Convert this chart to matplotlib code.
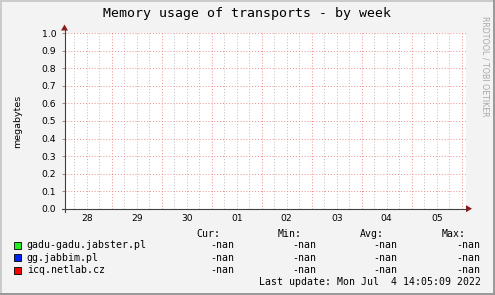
import numpy as np
import matplotlib
matplotlib.use("Agg")
import matplotlib.pyplot as plt
from matplotlib.patches import Rectangle, Polygon

W, H = 495, 295

# data (all series are empty -> nan)
day_labels = ["28", "29", "30", "01", "02", "03", "04", "05"]
hours = np.arange(0, 8 * 24 + 1, 6) / 24.0
series_names = ["gadu-gadu.jabster.pl", "gg.jabbim.pl", "icq.netlab.cz"]
series_colors = ["#22ee22", "#0022ff", "#ff0000"]
gadu_vals = np.full(len(hours), np.nan)
gg_vals = np.full(len(hours), np.nan)
icq_vals = np.full(len(hours), np.nan)
stat_heads = ["Cur:", "Min:", "Avg:", "Max:"]
stat_vals = [["-nan"] * 4, ["-nan"] * 4, ["-nan"] * 4]
y_ticks = [0.0, 0.1, 0.2, 0.3, 0.4, 0.5, 0.6, 0.7, 0.8, 0.9, 1.0]


def fx(x):
    return x / W


def fy(y):
    return 1 - y / H


fig = plt.figure(figsize=(W / 100, H / 100), dpi=100)
fig.patch.set_facecolor("#f3f3f3")

# 3d-ish frame
fig.add_artist(Rectangle((0, 0), fx(2), 1, transform=fig.transFigure, color="#cbcbcb", lw=0))
fig.add_artist(Rectangle((0, fy(2)), 1, 2 / H, transform=fig.transFigure, color="#cbcbcb", lw=0))
fig.add_artist(Rectangle((fx(W - 2), 0), fx(2), 1, transform=fig.transFigure, color="#9a9a9a", lw=0))
fig.add_artist(Rectangle((0, 0), 1, 2 / H, transform=fig.transFigure, color="#9a9a9a", lw=0))

left, right, top, bottom = 64.5, 466.0, 33.3, 208.7
ax = fig.add_axes([fx(left), fy(bottom), fx(right - left), (bottom - top) / H])
ax.set_facecolor("white")

x0 = (left - 61.7) / 50.0
x1 = (right - 61.7) / 50.0
ax.set_xlim(x0, x1)
ax.set_ylim(0, 1)

for vals, c in zip([gadu_vals, gg_vals, icq_vals], series_colors):
    ax.plot(hours, vals, color=c, lw=1)

# grid
dots = (0, (1, 2))
for h in hours:
    if abs(h - round(h)) < 1e-9:
        continue
    ax.axvline(h, color="#bcbcbc", lw=0.7, ls=dots, zorder=0)
for d in range(1, 9):
    ax.axvline(d, color="#ee8c8c", lw=0.7, ls=dots, zorder=0)
for y in y_ticks[1:]:
    ax.axhline(y, color="#ee8c8c", lw=0.7, ls=dots, zorder=0)

for s in ax.spines.values():
    s.set_visible(False)
ax.set_xticks([d + 0.5 for d in range(8)])
ax.set_xticklabels(day_labels, fontsize=6.6, family="DejaVu Sans")
ax.set_yticks(y_ticks)
ax.set_yticklabels(["%.1f" % v for v in y_ticks], fontsize=6.7, family="DejaVu Sans")
ax.tick_params(axis="x", length=0, pad=4)
ax.tick_params(axis="y", length=2, width=0.6, color="#808080", pad=4)
ax.set_ylabel("megabytes", fontsize=6.8, labelpad=14)

# axes lines and arrows
axc = "#404040"
fig.add_artist(plt.Line2D([fx(left), fx(left)], [fy(bottom + 3), fy(29)], transform=fig.transFigure, color=axc, lw=0.8))
fig.add_artist(plt.Line2D([fx(left - 3), fx(467)], [fy(bottom), fy(bottom)], transform=fig.transFigure, color=axc, lw=0.8))
arrow_c = "#8b1a1a"
fig.add_artist(Polygon([(fx(left - 3.5), fy(30.5)), (fx(left + 3.5), fy(30.5)), (fx(left), fy(24.5))],
                       closed=True, transform=fig.transFigure, color=arrow_c, lw=0))
fig.add_artist(Polygon([(fx(466), fy(bottom - 3.5)), (fx(466), fy(bottom + 3.5)), (fx(472), fy(bottom))],
                       closed=True, transform=fig.transFigure, color=arrow_c, lw=0))

# title and watermark
fig.text(fx(247), fy(14), "Memory usage of transports - by week", ha="center", va="center",
         fontsize=9.5, family="DejaVu Sans Mono")
fig.text(fx(485), fy(66), "RRDTOOL / TOBI OETIKER", ha="center", va="center", rotation=270,
         fontsize=5.7, color="#a8a8a8", family="DejaVu Sans")

# legend
mono = dict(fontsize=7.1, family="DejaVu Sans Mono", va="center")
head_x = [220, 301.7, 384, 466]
val_x = [234, 316, 397.7, 480]
for hx, t in zip(head_x, stat_heads):
    fig.text(fx(hx), fy(234), t, ha="right", **mono)
row_y = [245, 257.7, 270]
for ry, name, c, vals in zip(row_y, series_names, series_colors, stat_vals):
    fig.add_artist(Rectangle((fx(13.5), fy(ry + 3.5)), fx(7), 7 / H, transform=fig.transFigure,
                             facecolor=c, edgecolor="black", lw=0.6))
    fig.text(fx(26.7), fy(ry), name, ha="left", **mono)
    for vx, v in zip(val_x, vals):
        fig.text(fx(vx), fy(ry), v, ha="right", **mono)
fig.text(fx(481), fy(281.7), "Last update: Mon Jul  4 14:05:09 2022", ha="right", **mono)

fig.savefig("out.png", dpi=100, facecolor=fig.get_facecolor())
